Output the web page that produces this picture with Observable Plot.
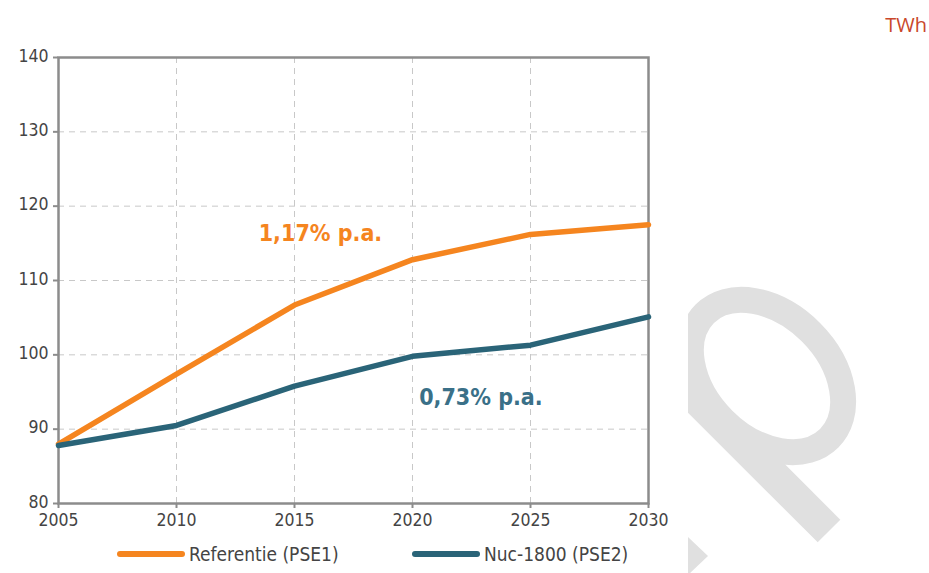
<!DOCTYPE html>
<html>
<head>
<meta charset="utf-8">
<script src="https://cdn.jsdelivr.net/npm/d3@7"></script>
<script src="https://cdn.jsdelivr.net/npm/@observablehq/plot@0.6"></script>
<style>
  html, body { margin: 0; padding: 0; background: #fff; }
  #wrap { position: relative; width: 929px; height: 573px; overflow: hidden; font-family: "DejaVu Sans Condensed", "DejaVu Sans", sans-serif; }
  #wm { position: absolute; left: 0; top: 0; pointer-events: none; }
  #chart { position: absolute; left: 0; top: 0; }
  #unit { position: absolute; right: 2px; top: 11px; color: #c9472b; font-size: 20px; font-family: "Open Sans", sans-serif; }
  #legend { position: absolute; left: 0; top: 535px; width: 929px; height: 38px; font-size: 19px; color: #444; }
  .li { position: absolute; top: 0; height: 38px; display: flex; align-items: center; }
  .li span { margin-left: 3px; }
</style>
</head>
<body>
<div id="wrap">
  <svg id="wm" width="929" height="573">
    <defs><clipPath id="wc"><rect x="688" y="0" width="241" height="573"/></clipPath></defs>
    <g clip-path="url(#wc)" fill="none" stroke="#e0e0e0">
      <ellipse cx="767" cy="376" rx="88" ry="62" stroke-width="26" transform="rotate(45 767 376)"/>
      <line x1="640" y1="342" x2="829" y2="531" stroke-width="32"/>
      <polygon points="688,537 708,556 688,575" fill="#e0e0e0" stroke="none"/>
    </g>
  </svg>
  <div id="chart"></div>
  <div id="unit">TWh</div>
  <div id="legend">
    <div class="li" style="left:116px"><svg width="70" height="10"><line x1="4" y1="5" x2="66" y2="5" stroke="#f5851f" stroke-width="6" stroke-linecap="round"/></svg><span>Referentie (PSE1)</span></div>
    <div class="li" style="left:411px"><svg width="70" height="10"><line x1="4" y1="5" x2="66" y2="5" stroke="#2a6478" stroke-width="6" stroke-linecap="round"/></svg><span>Nuc-1800 (PSE2)</span></div>
  </div>
</div>
<script>
const years = [2005, 2010, 2015, 2020, 2025, 2030];
const referentie = [88.0, 97.4, 106.7, 112.8, 116.2, 117.5];
const nuc1800 = [87.8, 90.5, 95.8, 99.8, 101.3, 105.1];
const yTicks = [80, 90, 100, 110, 120, 130, 140];
const seriesNames = ["Referentie (PSE1)", "Nuc-1800 (PSE2)"];
const seriesColors = ["#f5851f", "#2a6478"];
const annLabels = ["1,17% p.a.", "0,73% p.a."];
const annX = [2016.1, 2022.9];
const annY = [116.3, 94.3];
const annColors = ["#f5851f", "#3a7088"];

const rows = [];
years.forEach((yr, i) => {
  rows.push({year: yr, value: referentie[i], series: seriesNames[0]});
  rows.push({year: yr, value: nuc1800[i], series: seriesNames[1]});
});
const anns = annLabels.map((t, i) => ({text: t, x: annX[i], y: annY[i], color: annColors[i]}));

const chart = Plot.plot({
  width: 929,
  height: 535,
  marginTop: 57,
  marginLeft: 58,
  marginRight: 281,
  marginBottom: 32,
  style: {fontFamily: "'DejaVu Sans Condensed', 'DejaVu Sans', sans-serif", fontSize: "17.5px", color: "#444", background: "transparent"},
  x: {domain: [2005, 2030], ticks: years, tickFormat: d => String(d)},
  y: {domain: [80, 140], ticks: yTicks},
  color: {domain: seriesNames, range: seriesColors},
  marks: [
    Plot.gridX(years.slice(1, -1), {stroke: "#c8c8c8", strokeOpacity: 1, strokeDasharray: "6,5"}),
    Plot.gridY(yTicks.slice(1, -1), {stroke: "#c8c8c8", strokeOpacity: 1, strokeDasharray: "6,5"}),
    Plot.axisX({ticks: years, tickSize: 5, tickPadding: 5, stroke: "#8c8c8c", strokeWidth: 2, fill: "#444", tickFormat: d => String(d)}),
    Plot.axisY({ticks: yTicks, tickSize: 5, text: null, stroke: "#8c8c8c", strokeWidth: 2}),
    Plot.axisY({ticks: yTicks, tickSize: 0, tickPadding: 10, dy: -1.5, fill: "#444"}),
    Plot.frame({stroke: "#8c8c8c", strokeWidth: 2.5}),
    Plot.line(rows, {x: "year", y: "value", z: "series", stroke: "series", strokeWidth: 5.5, strokeLinejoin: "round", curve: "linear"}),
    Plot.text(anns, {x: "x", y: "y", text: "text", fill: "color", fontSize: 23, fontWeight: "bold", textAnchor: "middle"})
  ]
});
document.getElementById("chart").appendChild(chart);
</script>
</body>
</html>
